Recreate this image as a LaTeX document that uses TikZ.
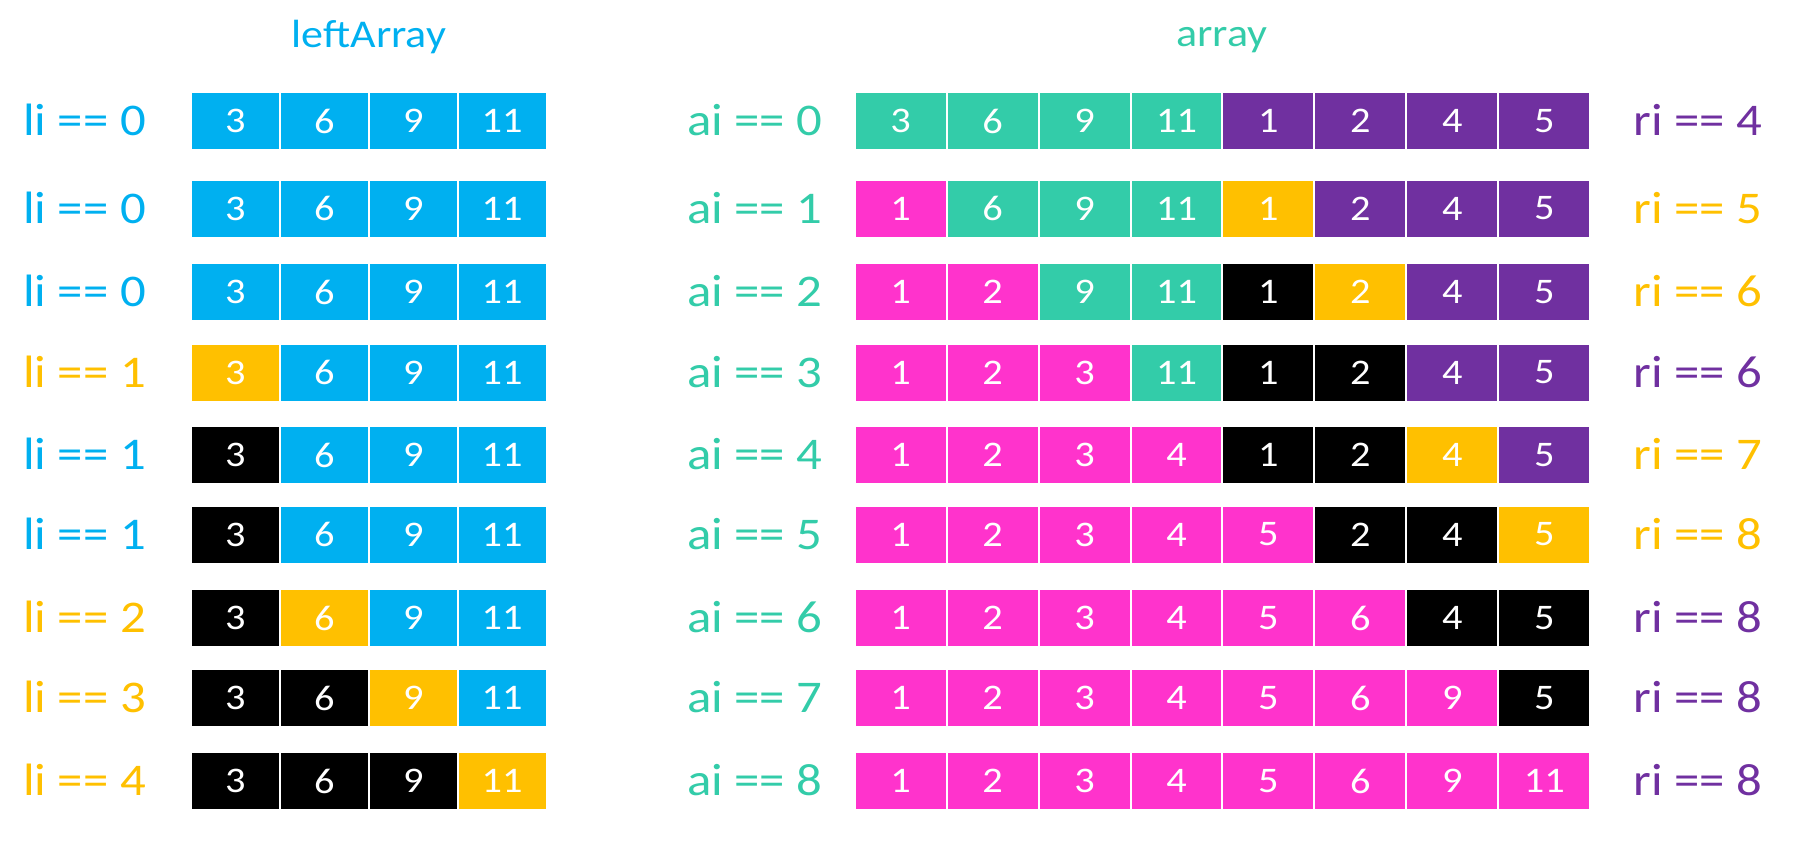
\documentclass[tikz,border=0pt]{standalone}
\usepackage{fontspec}
\setmainfont{Carlito}[FakeStretch=1.12]
\usepackage{xcolor}
\usepackage{tikz}

\definecolor{blu}{HTML}{00B0F0}
\definecolor{grn}{HTML}{33CCA9}
\definecolor{pur}{HTML}{7030A0}
\definecolor{ylw}{HTML}{FFC000}
\definecolor{pnk}{HTML}{FF33CC}

\begin{document}
\begin{tikzpicture}[x=0.75pt, y=-0.75pt,
    cell/.style={draw=white, line width=1.5pt, text=white, inner sep=0pt,
                 minimum height=43.5pt, font=\fontsize{27}{29}\selectfont},
    lcell/.style={cell, minimum width=66.7pt},
    acell/.style={cell, minimum width=68.95pt},
    lbl/.style={anchor=base west, inner sep=0pt, font=\fontsize{34}{37}\selectfont},
    ttl/.style={anchor=base, inner sep=0pt, font=\fontsize{29.5}{32}\selectfont}]
  \useasboundingbox (0,0) rectangle (1816,856);
  \node[ttl, text=blu] (ltitle) at (369,48) {leftArray};
  \node[ttl, text=grn] (atitle) at (1222,47) {array};
  % leftArray: row y / li / label colour / cells
  \foreach \y/\lv/\lc/\cells [count=\row] in {
      121/0/blu/{3/blu,6/blu,9/blu,11/blu},
      208.5/0/blu/{3/blu,6/blu,9/blu,11/blu},
      292/0/blu/{3/blu,6/blu,9/blu,11/blu},
      372.5/1/ylw/{3/ylw,6/blu,9/blu,11/blu},
      455/1/blu/{3/black,6/blu,9/blu,11/blu},
      534.5/1/blu/{3/black,6/blu,9/blu,11/blu},
      618/2/ylw/{3/black,6/ylw,9/blu,11/blu},
      698/3/ylw/{3/black,6/black,9/ylw,11/blu},
      781/4/ylw/{3/black,6/black,9/black,11/ylw}} {
    \node[lbl, text=\lc] (li\row) at (23,\y+14.5) {li == \lv};
    \foreach \val/\col [count=\k] in \cells
      \node[lcell, fill=\col] (l\row-\k) at ({191+88.9*(\k-0.5)},\y) {\val};
  }
  % array: row y / ai / ri / ri colour / cells
  \foreach \y/\av/\rv/\rc/\cells [count=\row] in {
      121/0/4/pur/{3/grn,6/grn,9/grn,11/grn,1/pur,2/pur,4/pur,5/pur},
      208.5/1/5/ylw/{1/pnk,6/grn,9/grn,11/grn,1/ylw,2/pur,4/pur,5/pur},
      292/2/6/ylw/{1/pnk,2/pnk,9/grn,11/grn,1/black,2/ylw,4/pur,5/pur},
      372.5/3/6/pur/{1/pnk,2/pnk,3/pnk,11/grn,1/black,2/black,4/pur,5/pur},
      455/4/7/ylw/{1/pnk,2/pnk,3/pnk,4/pnk,1/black,2/black,4/ylw,5/pur},
      534.5/5/8/ylw/{1/pnk,2/pnk,3/pnk,4/pnk,5/pnk,2/black,4/black,5/ylw},
      618/6/8/pur/{1/pnk,2/pnk,3/pnk,4/pnk,5/pnk,6/pnk,4/black,5/black},
      698/7/8/pur/{1/pnk,2/pnk,3/pnk,4/pnk,5/pnk,6/pnk,9/pnk,5/black},
      781/8/8/pur/{1/pnk,2/pnk,3/pnk,4/pnk,5/pnk,6/pnk,9/pnk,11/pnk}} {
    \node[lbl, text=grn] (ai\row) at (687,\y+14.5) {ai == \av};
    \node[lbl, text=\rc] (ri\row) at (1633,\y+14.5) {ri == \rv};
    \foreach \val/\col [count=\k] in \cells
      \node[acell, fill=\col] (a\row-\k) at ({854.7+91.94*(\k-0.5)},\y) {\val};
  }
\end{tikzpicture}
\end{document}
